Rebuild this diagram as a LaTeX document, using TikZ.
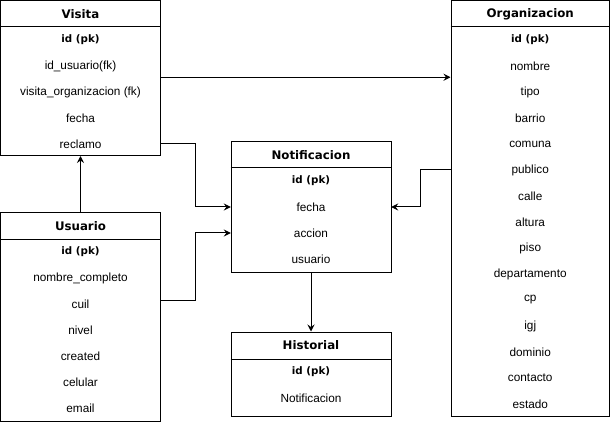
\documentclass[tikz,border=0pt]{standalone}
\usepackage{fontspec}
\setmainfont{Liberation Sans}
\newfontfamily\dejavu{DejaVu Sans}
\usetikzlibrary{arrows.meta}

\begin{document}
\begin{tikzpicture}[x=1pt,y=-1pt,
  box/.style={draw, fill=white, line width=1pt, inner sep=0pt},
  head/.style={font=\dejavu\bfseries\fontsize{11.8}{14}\selectfont, inner sep=0pt},
  pkrow/.style={font=\dejavu\bfseries\fontsize{10.3}{12}\selectfont, inner sep=0pt},
  row/.style={font=\fontsize{11.8}{14}\selectfont, inner sep=0pt, minimum height=26pt},
  sep/.style={line width=1pt},
  link/.style={line width=1pt, -{Stealth[length=7pt,width=7pt,inset=2.5pt]}}
]
\useasboundingbox[fill=white] (0,0) rectangle (611,425);

% ---------- Visita ----------
\node[box, minimum width=160pt, minimum height=154.5pt] (visita) at (80.5,78.25) {};
\draw[sep] (visita.west |- 0,27) -- (visita.east |- 0,27);
\node[head] (visita-h) at (80.5,14) {Visita};
\node[pkrow] (visita-id) at (80.5,40) {id (pk)};
\node[row, minimum width=160pt] (visita-usr) at (80.5,66) {id\_usuario(fk)};
\node[row, minimum width=160pt] (visita-org) at (80.5,92) {visita\_organizacion (fk)};
\node[row, minimum width=160pt] (visita-fecha) at (80.5,118) {fecha};
\node[row, minimum width=160pt] (visita-reclamo) at (80.5,144) {reclamo};

% ---------- Usuario ----------
\node[box, minimum width=160pt, minimum height=208.5pt] (usuario) at (80.5,317.25) {};
\draw[sep] (usuario.west |- 0,239) -- (usuario.east |- 0,239);
\node[head] (usuario-h) at (80.5,226) {Usuario};
\node[pkrow] (usuario-id) at (80.5,252) {id (pk)};
\node[row, minimum width=160pt] (usuario-nombre) at (80.5,278) {nombre\_completo};
\node[row, minimum width=160pt] (usuario-cuil) at (80.5,304) {cuil};
\node[row, minimum width=160pt] (usuario-nivel) at (80.5,330) {nivel};
\node[row, minimum width=160pt] (usuario-created) at (80.5,356) {created};
\node[row, minimum width=160pt] (usuario-celular) at (80.5,382) {celular};
\node[row, minimum width=160pt] (usuario-email) at (80.5,408) {email};

% ---------- Organizacion ----------
\node[box, minimum width=158.5pt, minimum height=415pt] (org) at (530.25,208.5) {};
\draw[sep] (org.west |- 0,27) -- (org.east |- 0,27);
\node[head] (org-h) at (530.25,14) {Organizacion};
\node[pkrow] (org-id) at (530.25,40) {id (pk)};
\foreach \name/\txt [count=\i] in {nombre/nombre, tipo/tipo, barrio/barrio,
    comuna/comuna, publico/publico, calle/calle, altura/altura, piso/piso,
    depto/departamento, cp/cp, igj/igj, dominio/dominio, contacto/contacto,
    estado/estado}
  \node[row, minimum width=158.5pt] (org-\name) at (530.25,{40+26*\i}) {\txt};

% ---------- Notificacion ----------
\node[box, minimum width=160pt, minimum height=130pt] (notif) at (311,207) {};
\draw[sep] (notif.west |- 0,168) -- (notif.east |- 0,168);
\node[head] (notif-h) at (311,155) {Notificacion};
\node[pkrow] (notif-id) at (311,181) {id (pk)};
\node[row, minimum width=160pt] (notif-fecha) at (311,207) {fecha};
\node[row, minimum width=160pt] (notif-accion) at (311,233) {accion};
\node[row, minimum width=160pt] (notif-usuario) at (311,259) {usuario};

% ---------- Historial ----------
\node[box, minimum width=160pt, minimum height=84pt] (hist) at (311,374) {};
\draw[sep] (hist.west |- 0,359) -- (hist.east |- 0,359);
\node[head] (hist-h) at (311,345) {Historial};
\node[pkrow] (hist-id) at (311,372) {id (pk)};
\node[row, minimum width=160pt] (hist-notif) at (311,398) {Notificacion};

% ---------- Relations ----------
\draw[link] ([yshift=1pt]visita.east) -- ([yshift=1pt]visita.east -| org.west);
\draw[link] (visita-reclamo.east) -- ++(35,0) |- (notif-fecha.west);
\draw[link] ([yshift=4pt]usuario-cuil.east) -- ++(35,0) |- (notif-accion.west);
\draw[link] (org-publico.west) -- ++(-30,0) |- (notif-fecha.east);
\draw[link] (usuario.north) -- (visita.south);
\draw[link] (notif.south) -- (hist.north);
\end{tikzpicture}
\end{document}
